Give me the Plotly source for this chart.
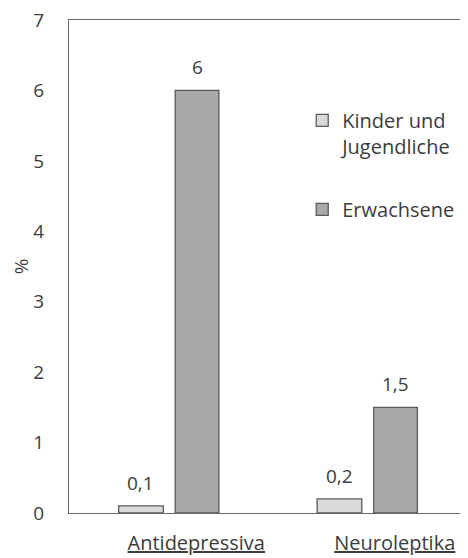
import plotly.graph_objects as go

categories = ["Antidepressiva", "Neuroleptika"]
series_names = ["Kinder und<br>Jugendliche", "Erwachsene"]
kinder = [0.1, 0.2]
erwachsene = [6, 1.5]
label_kinder = ["0,1", "0,2"]
label_erw = ["6", "1,5"]
y_ticks = [0, 1, 2, 3, 4, 5, 6, 7]

FONT = "Open Sans"
TXT = "#3c3c3c"
fills = ["#d9d9d9", "#a9a9a9"]
offsets = [-0.25, 0.035]
widths = [0.225, 0.22]

fig = go.Figure()
values = [kinder, erwachsene]
labels = [label_kinder, label_erw]
for k in range(2):
    fig.add_trace(go.Bar(
        x=list(range(len(categories))), y=values[k], name=series_names[k],
        offset=offsets[k], width=widths[k],
        marker=dict(color=fills[k], line=dict(color="#5a5a5a", width=1.3)),
        legendgroup=str(k),
    ))

for k in range(2):
    for i, v in enumerate(values[k]):
        fig.add_annotation(x=i + offsets[k] + widths[k] / 2, y=v, xref="x", yref="y",
                           text=labels[k][i], showarrow=False, yanchor="bottom",
                           yshift=8, font=dict(family=FONT, size=19, color=TXT))

# the page adds an 8px body margin, so the figure is sized to fit the window
fig.update_layout(
    width=460, height=550,
    margin=dict(l=61, r=2, t=12, b=45),
    plot_bgcolor="white", paper_bgcolor="white",
    barmode="overlay",
    font=dict(family=FONT, size=20, color=TXT),
    legend=dict(x=0.5875, y=0.836, xanchor="left", yanchor="top",
                font=dict(family=FONT, size=20, color=TXT),
                itemwidth=30, tracegroupgap=34, valign="top",
                bgcolor="rgba(0,0,0,0)"),
    xaxis=dict(range=[-0.5, 1.5], tickvals=list(range(len(categories))),
               ticktext=["<u>" + c + "</u>" for c in categories],
               showline=True, linecolor="#666", linewidth=1, mirror=True,
               showgrid=False, zeroline=False, ticks="", automargin=False,
               ticklabelstandoff=12, ticklabelshift=28,
               tickfont=dict(family=FONT, size=20, color=TXT)),
    yaxis=dict(range=[0, 7], tickvals=y_ticks, showline=True, linecolor="#666",
               linewidth=1, mirror=True, showgrid=False, zeroline=False, ticks="",
               ticklabelstandoff=20, automargin=False, ticklabeloverflow="allow",
               tickfont=dict(family=FONT, size=19, color=TXT),
               title=dict(text="%", font=dict(family=FONT, size=19, color=TXT), standoff=0)),
)

fig.write_html("out.html")
